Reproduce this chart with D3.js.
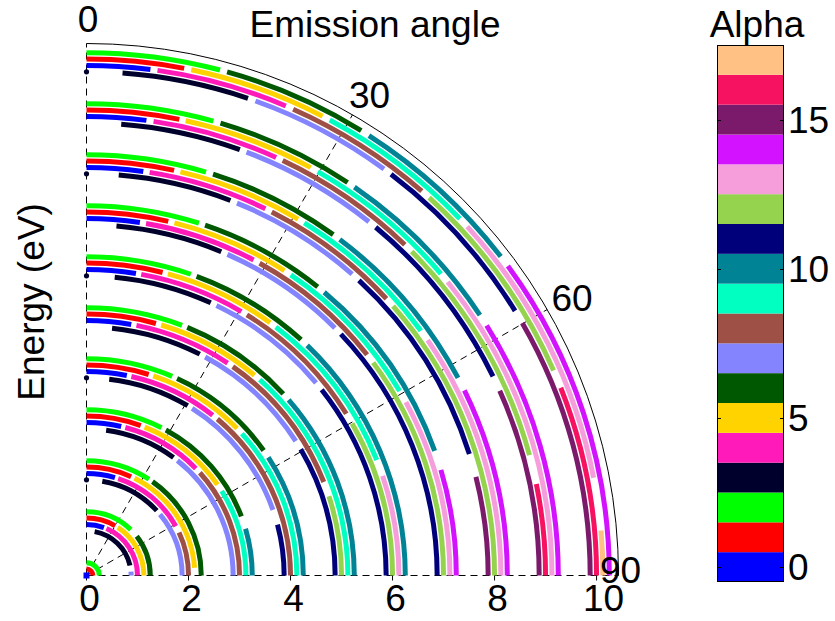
<!DOCTYPE html>
<html>
<head>
<meta charset="utf-8">
<script src="https://cdn.jsdelivr.net/npm/d3@7"></script>
<style>
  html, body { margin: 0; padding: 0; background: #fff; }
  svg { display: block; font-family: "Liberation Sans", Arial, sans-serif; }
</style>
</head>
<body>
<svg id="chart" width="835" height="621"></svg>
<script>
// Colour of each Alpha value, 0..17
const alphaColors = [
  "#0000ff", "#ff0000", "#00ff00", "#00002c", "#ff1ab9", "#ffd300",
  "#005800", "#8484ff", "#9e4f46", "#00ffc1", "#008495", "#00007b",
  "#95d34f", "#f69edc", "#d312ff", "#7b1a6a", "#f61261", "#ffc184"
];
const alphaTicks = [0, 5, 10, 15];
const energyTicks = [0, 2, 4, 6, 8, 10];
const angleTicks = [0, 30, 60, 90];
const energyMax = 10.43;

// Emission bands: [energy (eV), alpha, start angle (deg), end angle (deg)]
const arcs = [
  [0, 0, 0, 90], [0.125, 1, 0, 90], [0.25, 2, 0, 90],

  [0.875, 3, 10.5, 77], [0.875, 7, 85, 90],
  [1, 0, 0, 20], [1, 4, 23, 90],
  [1.125, 1, 0, 30], [1.125, 5, 33, 90],
  [1.25, 2, 0, 44], [1.25, 6, 52, 90],

  [1.875, 3, 9.5, 47.3], [1.875, 7, 50.2, 90],
  [2, 0, 0, 16.2], [2, 4, 18.1, 61.1], [2, 8, 65.1, 90],
  [2.125, 1, 0, 24.3], [2.125, 5, 26.3, 85.9],
  [2.25, 2, 0, 33.0], [2.25, 6, 35.1, 90],

  [2.875, 3, 7.7, 36.4], [2.875, 7, 38.3, 90],
  [3, 0, 0, 13.1], [3, 4, 14.7, 45.6], [3, 8, 47.8, 90],
  [3.125, 1, 0, 19.9], [3.125, 5, 21.4, 55.3], [3.125, 9, 58.0, 90],
  [3.25, 2, 0, 26.9], [3.25, 6, 28.6, 69.1], [3.25, 10, 73.6, 90],

  [3.875, 3, 6.6, 30.8], [3.875, 7, 32.3, 70.6], [3.875, 11, 75.1, 90],
  [4, 0, 0, 11.4], [4, 4, 12.7, 38.2], [4, 8, 39.9, 90],
  [4.125, 1, 0, 17.2], [4.125, 5, 18.5, 45.7], [4.125, 9, 47.6, 90],
  [4.25, 2, 0, 23.3], [4.25, 6, 24.7, 54.8], [4.25, 10, 57.0, 90],

  [4.875, 3, 5.9, 27.1], [4.875, 7, 28.5, 57.3], [4.875, 11, 59.5, 90],
  [5, 0, 0, 10.1], [5, 4, 11.3, 33.6], [5, 8, 35.0, 68.5], [5, 12, 71.9, 90],
  [5.125, 1, 0, 15.4], [5.125, 5, 16.6, 40.0], [5.125, 9, 41.5, 90],
  [5.25, 2, 0, 20.9], [5.25, 6, 22.1, 47.3], [5.25, 10, 49.0, 90],

  [5.875, 3, 5.4, 24.5], [5.875, 7, 25.7, 50.0], [5.875, 11, 51.7, 90],
  [6, 0, 0, 9.3], [6, 4, 10.3, 30.4], [6, 8, 31.6, 58.1], [6, 12, 60.2, 90],
  [6.125, 1, 0, 14.1], [6.125, 5, 15.1, 36.0], [6.125, 9, 37.3, 68.3], [6.125, 13, 71.4, 90],
  [6.25, 2, 0, 19.1], [6.25, 6, 20.2, 42.3], [6.25, 10, 43.8, 90],

  [6.875, 3, 4.9, 22.6], [6.875, 7, 23.7, 45.1], [6.875, 11, 46.5, 90],
  [7, 0, 0, 8.6], [7, 4, 9.6, 27.9], [7, 8, 29.0, 51.8], [7, 12, 53.4, 90],
  [7.125, 1, 0, 13.0], [7.125, 5, 14.0, 33.0], [7.125, 9, 34.2, 59.5], [7.125, 13, 61.5, 90],
  [7.25, 2, 0, 17.7], [7.25, 6, 18.7, 38.7], [7.25, 10, 40.0, 70.3], [7.25, 14, 73.4, 90],

  [7.875, 3, 4.6, 21.0], [7.875, 7, 22.0, 41.4], [7.875, 11, 42.7, 72.4], [7.875, 15, 75.8, 90],
  [8, 0, 0, 8.0], [8, 4, 8.9, 26.0], [8, 8, 27.0, 47.3], [8, 12, 48.7, 90],
  [8.125, 1, 0, 12.2], [8.125, 5, 13.1, 30.7], [8.125, 9, 31.7, 53.8], [8.125, 13, 55.4, 90],
  [8.25, 2, 0, 16.5], [8.25, 6, 17.5, 35.9], [8.25, 10, 37.0, 62.0], [8.25, 14, 63.9, 90],

  [8.875, 3, 4.4, 19.8], [8.875, 7, 20.7, 38.6], [8.875, 11, 39.7, 63.9], [8.875, 15, 65.9, 90],
  [9, 0, 0, 7.5], [9, 4, 8.4, 24.4], [9, 8, 25.3, 43.9], [9, 12, 45.1, 74.8], [9, 16, 78.5, 90],
  [9.125, 1, 0, 11.5], [9.125, 5, 12.3, 28.8], [9.125, 9, 29.8, 49.6], [9.125, 13, 50.9, 90],
  [9.25, 2, 0, 15.6], [9.25, 6, 16.5, 33.6], [9.25, 10, 34.6, 56.5], [9.25, 14, 58.0, 90],

  [9.875, 3, 4.1, 18.7], [9.875, 7, 19.6, 36.2], [9.875, 11, 37.2, 58.3], [9.875, 15, 59.9, 90],
  [10, 0, 0, 7.2], [10, 4, 8.0, 23.0], [10, 8, 23.9, 41.1], [10, 12, 42.2, 66.3], [10, 16, 68.4, 90],
  [10.125, 1, 0, 10.9], [10.125, 5, 11.7, 27.2], [10.125, 9, 28.1, 46.3], [10.125, 13, 47.5, 79.1], [10.125, 17, 85.0, 90],
  [10.25, 2, 0, 14.8], [10.25, 6, 15.6, 31.7], [10.25, 10, 32.7, 52.4], [10.25, 14, 53.7, 90]
];

// Single alpha-3 points sitting on the normal-emission axis
const normalPoints = [1.875, 3.875, 5.875, 7.875, 9.875];
const normalAlpha = 3;

const svg = d3.select("#chart");
const cx = 86.5, cy = 575.5;
const rScale = d3.scaleLinear().domain([0, energyMax]).range([0, 532]);
const rad = d => d * Math.PI / 180;
const fontSize = 37;

const polar = svg.append("g").attr("transform", `translate(${cx},${cy})`);

// dashed spokes
polar.selectAll("line.spoke").data(angleTicks).join("line")
  .attr("class", "spoke")
  .attr("x1", 0).attr("y1", 0)
  .attr("x2", d => d3.pointRadial(rad(d), rScale(energyMax))[0])
  .attr("y2", d => d3.pointRadial(rad(d), rScale(energyMax))[1])
  .attr("stroke", "#000").attr("stroke-width", 1)
  .attr("stroke-dasharray", "7,5");

// outer rim
const rim = d3.path();
rim.arc(0, 0, rScale(energyMax), -Math.PI / 2, 0);
polar.append("path").attr("d", rim.toString())
  .attr("fill", "none").attr("stroke", "#000").attr("stroke-width", 1);

// energy ticks on the horizontal axis
polar.selectAll("line.etick").data(energyTicks).join("line")
  .attr("class", "etick")
  .attr("x1", d => rScale(d)).attr("x2", d => rScale(d))
  .attr("y1", -6).attr("y2", 5)
  .attr("stroke", "#000").attr("stroke-width", 1);

// colour bands
const bandWidth = 5;
const arcGen = d3.arc()
  .innerRadius(d => Math.max(0, rScale(d[0]) - bandWidth / 2))
  .outerRadius(d => rScale(d[0]) + bandWidth / 2)
  .startAngle(d => rad(d[2]))
  .endAngle(d => rad(d[3]));

polar.selectAll("path.band").data(arcs.filter(d => d[0] > 0)).join("path")
  .attr("class", "band")
  .attr("d", arcGen)
  .attr("fill", d => alphaColors[d[1]]);

// zero-energy point drawn as a marker at the origin
polar.selectAll("rect.origin").data(arcs.filter(d => d[0] === 0)).join("rect")
  .attr("class", "origin")
  .attr("x", -3).attr("y", -3).attr("width", 6).attr("height", 6)
  .attr("fill", d => alphaColors[d[1]]);

polar.selectAll("circle.normal").data(normalPoints).join("circle")
  .attr("class", "normal")
  .attr("cx", 0).attr("cy", d => -rScale(d)).attr("r", 2.6)
  .attr("fill", alphaColors[normalAlpha]);

// angle labels
const angleLabelPos = { 0: [1.5, -544], 30: [283, -468], 60: [485.5, -265], 90: [534, 7] };
polar.selectAll("text.ang").data(angleTicks).join("text")
  .attr("class", "ang")
  .attr("x", d => angleLabelPos[d][0]).attr("y", d => angleLabelPos[d][1])
  .attr("text-anchor", "middle")
  .attr("font-size", fontSize)
  .text(d => d);

// energy labels
polar.selectAll("text.elab").data(energyTicks).join("text")
  .attr("class", "elab")
  .attr("x", d => rScale(d) + 3 + (d >= 10 ? 4 : 0))
  .attr("y", 35.5)
  .attr("text-anchor", "middle")
  .attr("font-size", fontSize)
  .text(d => d);

// axis titles
svg.append("text").attr("x", 375).attr("y", 37)
  .attr("text-anchor", "middle").attr("font-size", fontSize)
  .text("Emission angle");
svg.append("text")
  .attr("transform", "translate(44,302) rotate(-90)")
  .attr("text-anchor", "middle").attr("font-size", fontSize)
  .text("Energy (eV)");

// colour bar
const cbX = 717, cbW = 67;
const yBar = d3.scaleLinear().domain([-0.5, alphaColors.length - 0.5]).range([582, 45]);
const cb = svg.append("g");
cb.selectAll("rect.cell").data(alphaColors).join("rect")
  .attr("class", "cell")
  .attr("x", cbX).attr("width", cbW)
  .attr("y", (d, i) => yBar(i + 0.5))
  .attr("height", (d, i) => yBar(i - 0.5) - yBar(i + 0.5))
  .attr("fill", d => d);
cb.append("rect")
  .attr("x", cbX + 0.5).attr("y", yBar(alphaColors.length - 0.5) + 0.5)
  .attr("width", cbW - 1).attr("height", yBar(-0.5) - yBar(alphaColors.length - 0.5) - 1)
  .attr("fill", "none").attr("stroke", "#000").attr("stroke-width", 1);
cb.selectAll("line.tl").data(alphaTicks).join("line")
  .attr("class", "tl")
  .attr("x1", cbX).attr("x2", cbX + 4)
  .attr("y1", d => Math.round(yBar(d)) + 0.5).attr("y2", d => Math.round(yBar(d)) + 0.5)
  .attr("stroke", "#000");
cb.selectAll("line.tr").data(alphaTicks).join("line")
  .attr("class", "tr")
  .attr("x1", cbX + cbW - 4).attr("x2", cbX + cbW)
  .attr("y1", d => Math.round(yBar(d)) + 0.5).attr("y2", d => Math.round(yBar(d)) + 0.5)
  .attr("stroke", "#000");
cb.selectAll("text.al").data(alphaTicks).join("text")
  .attr("class", "al")
  .attr("x", 788).attr("y", d => yBar(d) + 13)
  .attr("font-size", fontSize)
  .text(d => d);
svg.append("text").attr("x", 757).attr("y", 36.5)
  .attr("text-anchor", "middle").attr("font-size", fontSize)
  .text("Alpha");
</script>
</body>
</html>
